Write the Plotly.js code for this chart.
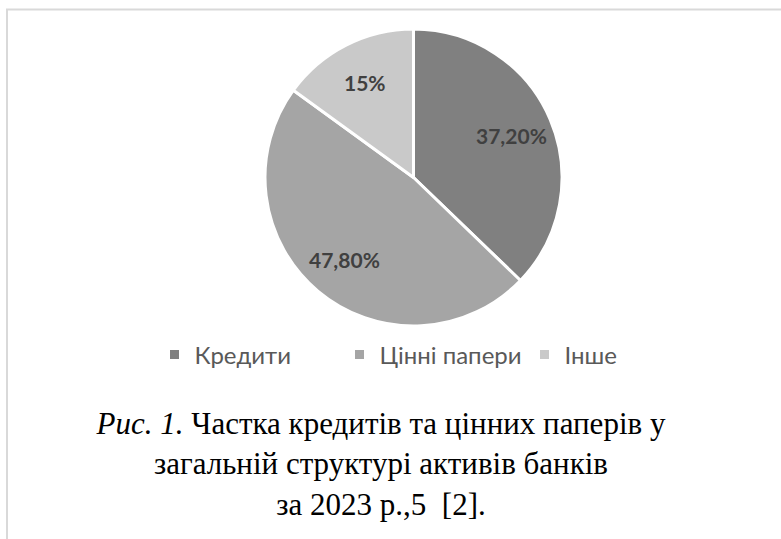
<!DOCTYPE html>
<html>
<head>
<meta charset="utf-8">
<script src="https://cdn.plot.ly/plotly-3.0.1.min.js"></script>
<style>html,body{margin:0;padding:0;background:#fff;}#chart{width:781px;height:539px;}</style>
</head>
<body>
<div id="chart"></div>
<script>
const categories = ["Кредити", "Цінні папери", "Інше"];
const shares = [37.2, 47.8, 15];
const valueLabels = ["37,20%", "47,80%", "15%"];
const sliceColors = ["#808080", "#a5a5a5", "#c9c9c9"];
const captionLines = ["<i>Рис. 1.</i> Частка кредитів та цінних паперів у", "загальній структурі активів банків", "за 2023 р.,5  [2]."];

const W = 781, H = 539;
const cx = 413.5, cy = 177.5, R = 148.5;
const labelRadius = 0.72;

const trace = {
  type: "pie",
  labels: categories,
  values: shares,
  sort: false,
  direction: "clockwise",
  rotation: 0,
  marker: {colors: sliceColors, line: {color: "#ffffff", width: 3}},
  textinfo: "none",
  hoverinfo: "label+percent",
  domain: {x: [(cx - R) / W, (cx + R) / W], y: [1 - (cy + R) / H, 1 - (cy - R) / H]}
};

// slice value labels placed on each slice's bisector
const total = shares.reduce((a, b) => a + b, 0);
let cum = 0;
const labelAnnotations = shares.map((v, i) => {
  const theta = 2 * Math.PI * (cum + v / 2) / total;
  cum += v;
  const px = cx + labelRadius * R * Math.sin(theta);
  const py = cy - labelRadius * R * Math.cos(theta);
  return {
    text: valueLabels[i], xref: "paper", yref: "paper",
    x: px / W, y: 1 - py / H, xanchor: "center", yanchor: "middle",
    showarrow: false,
    font: {family: "Lato, sans-serif", size: 21, color: "#404040", weight: "bold"}
  };
});

const layout = {
  width: W, height: H,
  margin: {l: 0, r: 0, t: 0, b: 0},
  paper_bgcolor: "#ffffff",
  showlegend: true,
  legend: {
    orientation: "h",
    x: 432 / W, xanchor: "center",
    y: 1 - 355 / H, yanchor: "middle",
    font: {family: "Lato, sans-serif", size: 24, color: "#595959"},
    entrywidth: 140,
    bgcolor: "rgba(0,0,0,0)"
  },
  title: {
    text: captionLines.join("<br>"),
    font: {family: "Liberation Serif, serif", size: 31, color: "#000000", weight: 400},
    x: 381 / W, xanchor: "center",
    y: 1 - 434 / H, yanchor: "top",
    xref: "container", yref: "container"
  },
  annotations: labelAnnotations,
  shapes: [{
    type: "rect", xref: "paper", yref: "paper",
    x0: 7 / W, x1: 1.02, y0: -0.02, y1: 1 - 9.5 / H,
    line: {color: "#d9d9d9", width: 2}, fillcolor: "rgba(0,0,0,0)", layer: "below"
  }]
};

Plotly.newPlot("chart", [trace], layout, {displayModeBar: false, staticPlot: true});
</script>
</body>
</html>
